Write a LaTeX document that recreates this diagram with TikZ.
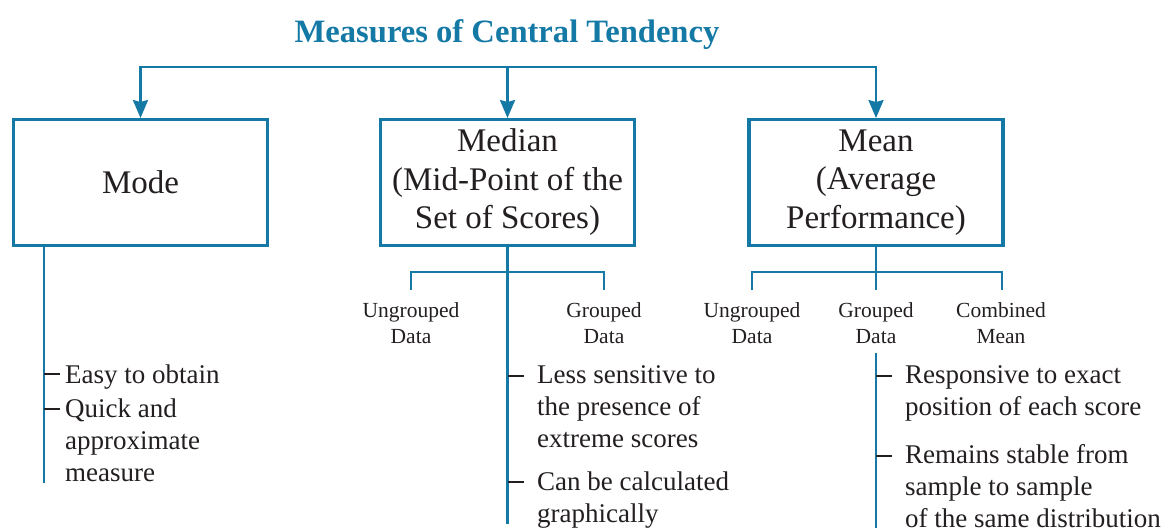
\documentclass[tikz,border=0pt]{standalone}
\usepackage{fontspec}
\setmainfont{Liberation Serif}
\usetikzlibrary{arrows.meta}
\definecolor{cteal}{HTML}{1479A5}
\definecolor{ink}{HTML}{231F20}
\tikzset{ctip/.tip={Stealth[length=18pt,width=15pt,inset=2pt]}}
\begin{document}
\begin{tikzpicture}[x=1pt,y=-1pt,
  box/.style={draw=cteal, line width=3.4pt, minimum width=254pt, minimum height=125.5pt,
    inner sep=0pt, align=center, text=ink, font=\fontsize{33}{38.5}\selectfont},
  link/.style={draw=cteal, line width=2.6pt},
  tickmark/.style={draw=ink, line width=2.6pt},
  lab/.style={inner sep=0pt, align=center, anchor=base, text=ink, font=\fontsize{21.5}{26}\selectfont},
  item/.style={inner sep=0pt, anchor=base west, align=left, text=ink, font=\fontsize{27}{32}\selectfont}
]
\useasboundingbox (0,0) rectangle (1169,531);

% title
\node[font=\bfseries\fontsize{32.6}{36}\selectfont, text=cteal, anchor=base, inner sep=0pt] (title) at (507,42) {Measures of Central Tendency};

% the three measures
\node[box] (mode)   at (140.5,182.5) {Mode};
\node[box] (median) at (507.5,182.5) {Median\\(Mid-Point of the\\Set of Scores)};
\node[box] (mean)   at (876,182.5)   {Mean\\(Average\\Performance)};

% distribution bar from the title
\coordinate (bar) at (507,67);
\draw[link, ctip-ctip] (mode.north) -- (mode.north |- bar) -- (mean.north |- bar) -- (mean.north);
\draw[link, -ctip] (median.north |- bar) -- (median.north);

% ---- Mode ----  (multi-line nodes sit on the baseline of their last line)
\coordinate (modeend) at (44,483);
\draw[link] (mode.south -| modeend) -- (modeend);
\coordinate (mt1) at (44,374);
\coordinate (mt2) at (44,409);
\draw[tickmark] (mt1) -- ++(16,0);
\draw[tickmark] (mt2) -- ++(16,0);
\node[item] (modea) at (65,383) {Easy to obtain};
\node[item] (modeb) at (65,481) {Quick and\\approximate\\measure};

% ---- Median ----
\coordinate (medend) at (507.5,524);
\coordinate (medbar) at (507.5,272);
\coordinate (medL) at (411,290);
\coordinate (medR) at (604,290);
\draw[link] (median.south) -- (medend);
\draw[link] (medL) -- (medL |- medbar) -- (medR |- medbar) -- (medR);
\node[lab] (medug) at (411,343) {Ungrouped\\Data};
\node[lab] (medg)  at (604,343) {Grouped\\Data};
\coordinate (dt1) at (507.5,376);
\coordinate (dt2) at (507.5,482);
\draw[tickmark] (dt1) -- ++(16,0);
\draw[tickmark] (dt2) -- ++(16,0);
\node[item] (meda) at (537,447) {Less sensitive to\\the presence of\\extreme scores};
\node[item] (medb) at (537,522.5) {Can be calculated\\graphically};

% ---- Mean ----
\coordinate (meanbar) at (876,272);
\coordinate (meanL) at (752,290);
\coordinate (meanM) at (876,290);
\coordinate (meanR) at (1002,290);
\draw[link] (mean.south) -- (meanbar) -- (meanM);
\draw[link] (meanL) -- (meanL |- meanbar) -- (meanR |- meanbar) -- (meanR);
\node[lab] (meanug) at (752,343)  {Ungrouped\\Data};
\node[lab] (meang)  at (876,343)  {Grouped\\Data};
\node[lab] (meanc)  at (1001,343) {Combined\\Mean};
\coordinate (meantop) at (876,353);
\coordinate (meanend) at (876,528);
\draw[link] (meantop) -- (meanend);
\coordinate (nt1) at (876,376);
\coordinate (nt2) at (876,456);
\draw[tickmark] (nt1) -- ++(16,0);
\draw[tickmark] (nt2) -- ++(16,0);
\node[item] (meana) at (905,415) {Responsive to exact\\position of each score};
\node[item] (meanb) at (905,527) {Remains stable from\\sample to sample\\of the same distribution};
\end{tikzpicture}
\end{document}
